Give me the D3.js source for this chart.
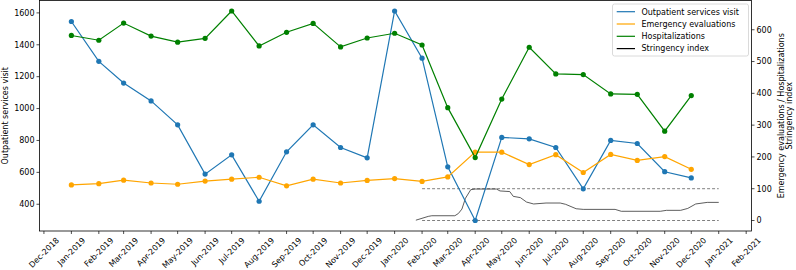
<!DOCTYPE html>
<html><head><meta charset="utf-8">
<script src="https://cdn.jsdelivr.net/npm/d3@7"></script>
<style>body{margin:0;background:#fff}svg{display:block;font-family:"DejaVu Sans",sans-serif}</style>
</head><body><svg id="c" width="796" height="270"></svg>
<script>
const months = ["2019-01","2019-02","2019-03","2019-04","2019-05","2019-06","2019-07","2019-08","2019-09","2019-10","2019-11","2019-12",
"2020-01","2020-02","2020-03","2020-04","2020-05","2020-06","2020-07","2020-08","2020-09","2020-10","2020-11","2020-12"];
const outpatient = [1546,1296,1160,1048,898,589,710,419,729,898,756,691,1612,1316,635,298,819,810,756,497,800,781,604,565];
const emergency = [112,116,127,118,114,124,130,136,109,130,118,126,132,123,137,215,215,176,207,151,208,189,201,161];
const hospital = [582,567,621,580,561,573,659,549,592,620,546,574,589,552,355,198,382,545,461,459,398,397,281,393];
const stringencyDates = ["2020-01-25","2020-02-08","2020-02-12","2020-03-09","2020-03-13","2020-03-17","2020-03-21","2020-03-27","2020-04-01","2020-04-25","2020-04-29","2020-05-10","2020-05-14","2020-05-22","2020-05-29","2020-06-06","2020-06-20","2020-07-06","2020-07-12","2020-07-24","2020-08-01","2020-09-06","2020-09-13","2020-10-27","2020-11-03","2020-11-19","2020-11-27","2020-12-06","2020-12-19","2021-01-01"];
const stringency = [1,13,15,15,22,36,70,97,99,99,93,91,76,72,58,52,55,55,51,37,35,35,29,29,32,32,38,52,57,57];
const refLines = [0,100];
const refRange = ["2020-02-01","2021-01-01"];
const leftTicks = [400,600,800,1000,1200,1400,1600];
const rightTicks = [0,100,200,300,400,500,600];
const xTickMonths = ["2018-12","2019-01","2019-02","2019-03","2019-04","2019-05","2019-06","2019-07","2019-08","2019-09","2019-10","2019-11","2019-12",
"2020-01","2020-02","2020-03","2020-04","2020-05","2020-06","2020-07","2020-08","2020-09","2020-10","2020-11","2020-12","2021-01","2021-02"];
const seriesNames = ["Outpatient services visit","Emergency evaluations","Hospitalizations","Stringency index"];
const colors = ["#1f77b4","#ffa500","#008000","#000000"];

const pm = d3.timeParse("%Y-%m"), pd = d3.timeParse("%Y-%m-%d");
const fmt = d3.timeFormat("%b-%Y");
const svg = d3.select("#c");
const L=39.5, R=751.5, T=0.5, B=231;
const x = d3.scaleTime().domain([pd("2018-11-26"), pd("2021-02-07")]).range([L,R]);
const yL = d3.scaleLinear().domain([232.3,1677.7]).range([B,T]);
const yR = d3.scaleLinear().domain([-33,692]).range([B,T]);
const fs = 8;

const g = svg.append("g");
refLines.forEach(v=>{
  g.append("line").attr("x1",x(pd(refRange[0]))).attr("x2",x(pd(refRange[1])))
   .attr("y1",yR(v)).attr("y2",yR(v)).attr("stroke","#808080").attr("stroke-width",1)
   .attr("stroke-dasharray","3,2");
});
const sData = stringencyDates.map((d,i)=>[pd(d),stringency[i]]);
g.append("path").datum(sData).attr("fill","none").attr("stroke","#333").attr("stroke-width",0.8)
 .attr("d",d3.line().x(d=>x(d[0])).y(d=>yR(d[1])));

function series(vals, scale, color){
  const data = months.map((m,i)=>[pm(m),vals[i]]);
  g.append("path").datum(data).attr("fill","none").attr("stroke",color).attr("stroke-width",1.2)
   .attr("d",d3.line().x(d=>x(d[0])).y(d=>scale(d[1])));
  g.selectAll(null).data(data).enter().append("circle").attr("cx",d=>x(d[0])).attr("cy",d=>scale(d[1]))
   .attr("r",2.6).attr("fill",color);
}
series(outpatient,yL,colors[0]);
series(emergency,yR,colors[1]);
series(hospital,yR,colors[2]);

svg.append("rect").attr("x",L).attr("y",T).attr("width",R-L).attr("height",B-T).attr("fill","none").attr("stroke","#000").attr("stroke-width",0.8);

const ax = svg.append("g");
leftTicks.forEach(v=>{
  ax.append("line").attr("x1",L-3).attr("x2",L).attr("y1",yL(v)).attr("y2",yL(v)).attr("stroke","#000").attr("stroke-width",0.7);
  ax.append("text").attr("x",L-5).attr("y",yL(v)).attr("dy","0.35em").attr("text-anchor","end").attr("font-size",fs).attr("fill","#000").text(v);
});
rightTicks.forEach(v=>{
  ax.append("line").attr("x1",R).attr("x2",R+3).attr("y1",yR(v)).attr("y2",yR(v)).attr("stroke","#000").attr("stroke-width",0.7);
  ax.append("text").attr("x",R+5).attr("y",yR(v)).attr("dy","0.35em").attr("text-anchor","start").attr("font-size",fs).attr("fill","#000").text(v);
});
xTickMonths.forEach(m=>{
  const xv = x(pm(m));
  ax.append("line").attr("x1",xv).attr("x2",xv).attr("y1",B).attr("y2",B+3).attr("stroke","#000").attr("stroke-width",0.7);
  const t = ax.append("text").attr("font-size",fs).attr("text-anchor","middle").attr("dy","0.35em").attr("fill","#000").text(fmt(pm(m)));
  const w = t.node().getComputedTextLength();
  const h = (w + fs) * Math.SQRT1_2;
  const cy = B + 5 + h/2;
  t.attr("x",xv).attr("y",cy).attr("transform",`rotate(-45,${xv},${cy})`);
});
svg.append("text").attr("transform",`translate(8,${(T+B)/2}) rotate(-90)`).attr("text-anchor","middle").attr("font-size",fs).text("Outpatient services visit");
const rt = svg.append("text").attr("transform",`translate(784,${(T+B)/2}) rotate(-90)`).attr("text-anchor","middle").attr("font-size",fs);
rt.append("tspan").attr("x",0).attr("dy",0).text("Emergency evaluations / Hospitalizations");
rt.append("tspan").attr("x",0).attr("dy","0.95em").text("Stringency index");

const lg = svg.append("g");
lg.append("rect").attr("x",612.5).attr("y",4).attr("width",136).attr("height",52).attr("rx",2).attr("fill","#fff").attr("fill-opacity",0.8).attr("stroke","#d0d0d0").attr("stroke-width",0.8);
seriesNames.forEach((n,i)=>{
  const yy = 11.7 + i*12.3;
  lg.append("line").attr("x1",616.7).attr("x2",635).attr("y1",yy).attr("y2",yy).attr("stroke",colors[i]).attr("stroke-width",1.2);
  lg.append("text").attr("x",641.5).attr("y",yy).attr("dy","0.35em").attr("font-size",fs).text(n);
});
</script></body></html>
